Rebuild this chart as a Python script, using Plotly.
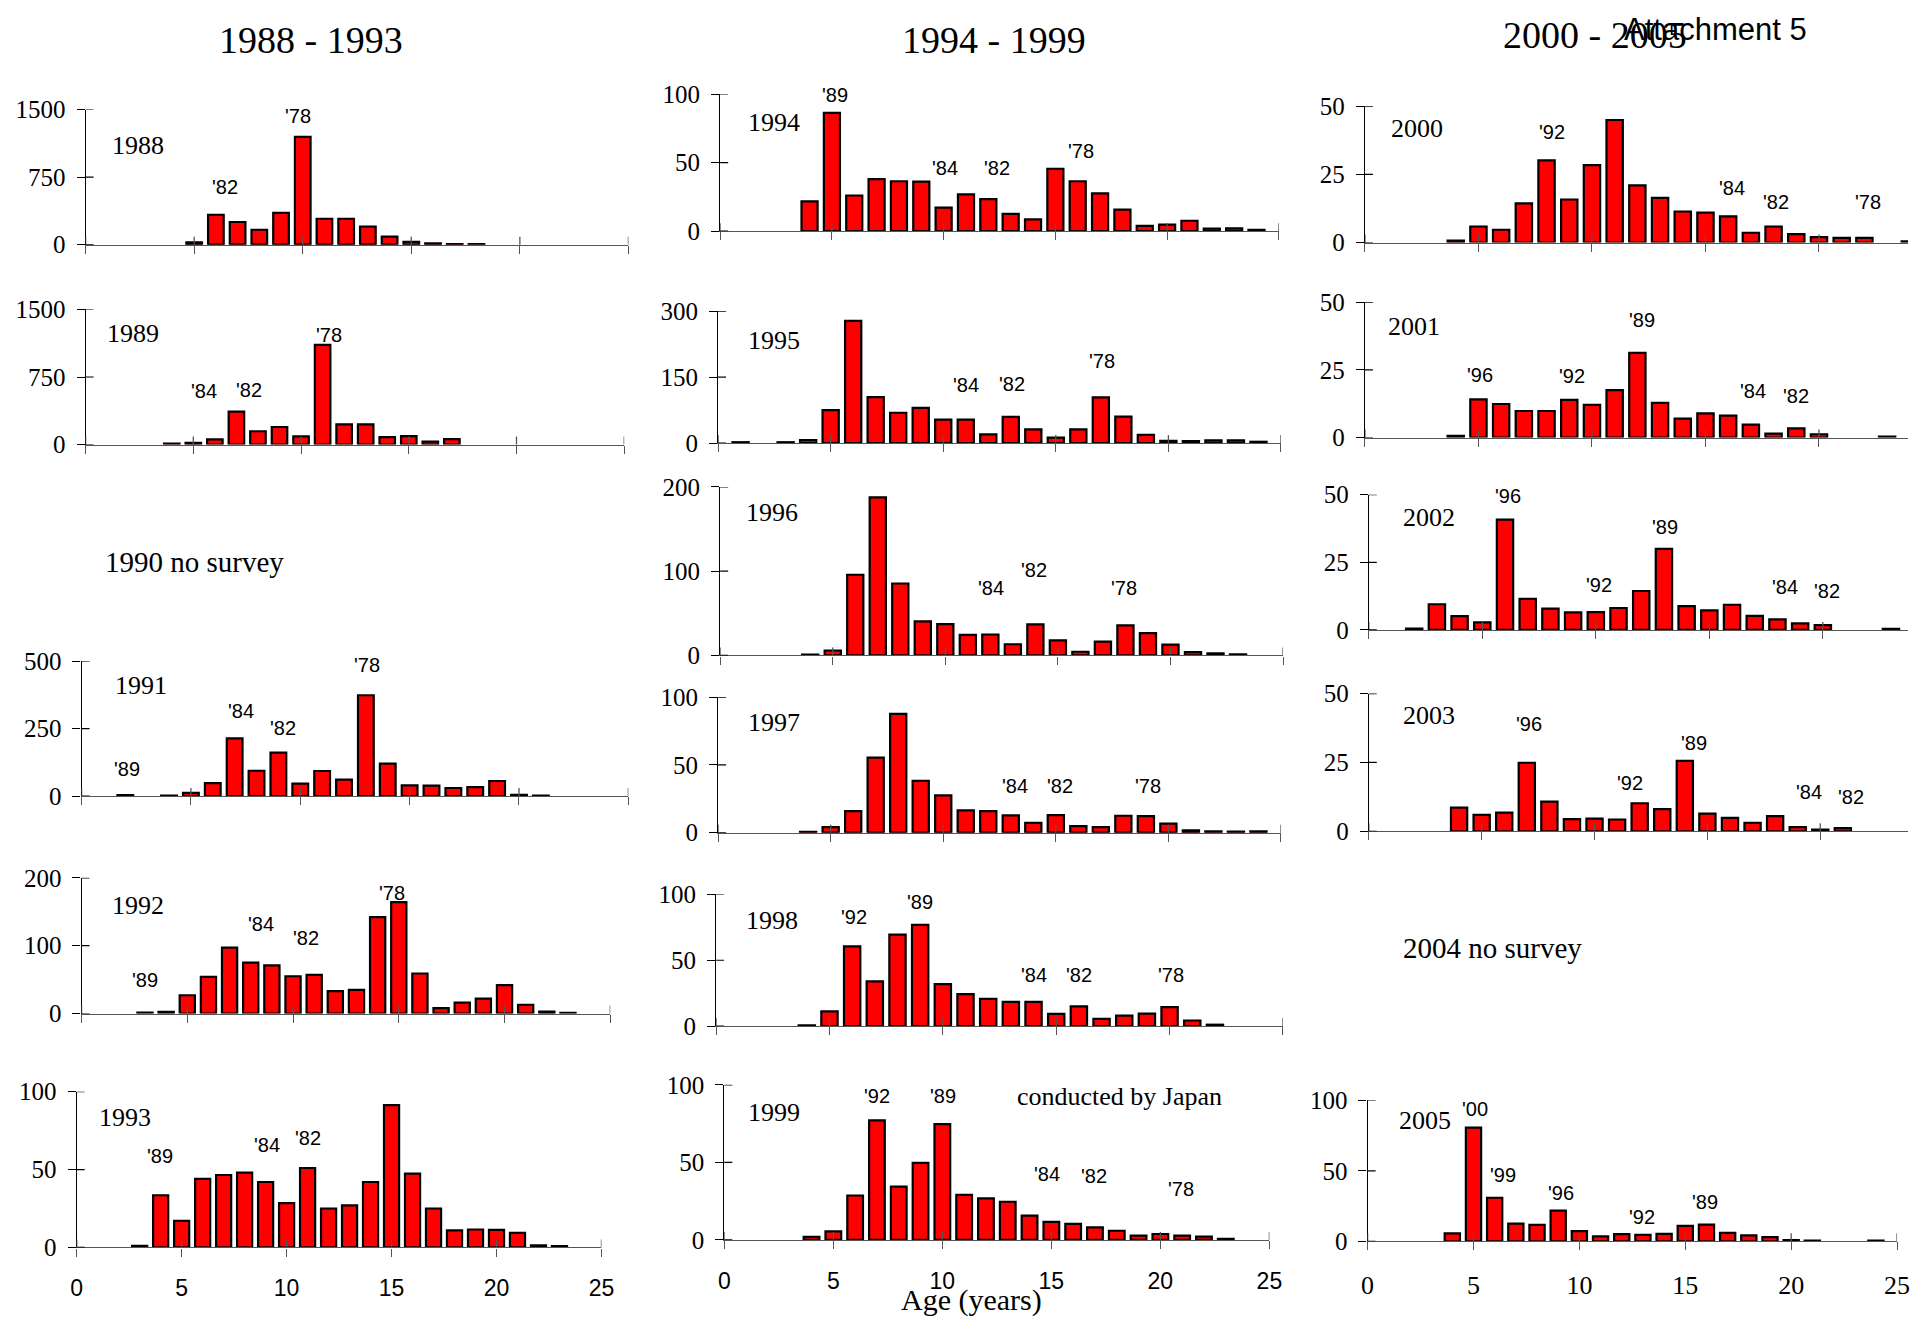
import plotly.graph_objects as go

W, H = 1921, 1330          # page / figure size in pixels
SERIF = "Liberation Serif"
SANS = "Liberation Sans"

# ---------------- age-frequency data (age in years, number of animals) ----------------
ages_1988 = [5, 6, 7, 8, 9, 10, 11, 12, 13, 14, 15, 16, 17, 18]
n_1988 = [25, 332, 252, 166, 353, 1197, 288, 288, 202, 90, 32, 15, 8, 6]

ages_1989 = [4, 5, 6, 7, 8, 9, 10, 11, 12, 13, 14, 15, 16, 17]
n_1989 = [10, 20, 58, 365, 148, 195, 90, 1106, 224, 224, 83, 94, 33, 61]

ages_1991 = [2, 4, 5, 6, 7, 8, 9, 10, 11, 12, 13, 14, 15, 16, 17, 18, 19, 20, 21]
n_1991 = [4, 2, 12, 48, 214, 94, 161, 46, 93, 61, 374, 120, 40, 39, 30, 33, 56, 5, 2]

ages_1992 = [3, 4, 5, 6, 7, 8, 9, 10, 11, 12, 13, 14, 15, 16, 17, 18, 19, 20, 21, 22, 23]
n_1992 = [1.5, 2.5, 27, 54, 97, 75, 71, 55, 57, 33, 35, 142, 164, 59, 8, 16, 22, 42, 13, 3, 1]

ages_1993 = [3, 4, 5, 6, 7, 8, 9, 10, 11, 12, 13, 14, 15, 16, 17, 18, 19, 20, 21, 22, 23]
n_1993 = [1, 33.5, 17, 44, 46.5, 48, 42, 28.5, 51, 25, 27, 42, 91.4, 47.4, 25, 11, 11.5, 11.3, 9.4, 1.3, 0.8]

ages_1994 = [4, 5, 6, 7, 8, 9, 10, 11, 12, 13, 14, 15, 16, 17, 18, 19, 20, 21, 22, 23, 24]
n_1994 = [21.7, 86.2, 26, 38, 36.4, 36.2, 17.1, 26.9, 23.3, 12.6, 8.6, 45.5, 36.4, 27.6, 15.7, 3.8, 4.8, 7.6, 1.9, 2.1, 1]

ages_1995 = [1, 3, 4, 5, 6, 7, 8, 9, 10, 11, 12, 13, 14, 15, 16, 17, 18, 19, 20, 21, 22, 23, 24]
n_1995 = [2, 2, 6.7, 75, 277.7, 104.7, 69, 80, 53.5, 53.5, 20, 59.4, 31.2, 12.6, 31.2, 104, 60, 18.6, 5.2, 4.5, 6, 6, 3]

ages_1996 = [4, 5, 6, 7, 8, 9, 10, 11, 12, 13, 14, 15, 16, 17, 18, 19, 20, 21, 22, 23]
n_1996 = [0.8, 5.8, 95.7, 187.6, 85.3, 40.3, 37.2, 24.4, 24.8, 13.2, 36.8, 17.8, 4.3, 16.3, 35.7, 26.4, 12.8, 3.9, 2.3, 1.2]

ages_1997 = [4, 5, 6, 7, 8, 9, 10, 11, 12, 13, 14, 15, 16, 17, 18, 19, 20, 21, 22, 23, 24]
n_1997 = [0.7, 4.1, 15.9, 55.4, 87.7, 38.3, 27.5, 16.4, 15.9, 12.8, 7.2, 13, 4.8, 4.1, 12.5, 12.3, 6.7, 1.7, 1, 0.9, 1]

ages_1998 = [4, 5, 6, 7, 8, 9, 10, 11, 12, 13, 14, 15, 16, 17, 18, 19, 20, 21, 22]
n_1998 = [0.5, 11.2, 60.5, 34, 69.5, 76.9, 31.8, 24.3, 20.6, 18.4, 18.4, 9.2, 14.9, 5.5, 7.9, 9.4, 14.4, 4.2, 1]

ages_1999 = [4, 5, 6, 7, 8, 9, 10, 11, 12, 13, 14, 15, 16, 17, 18, 19, 20, 21, 22, 23]
n_1999 = [1.9, 5.5, 28.6, 77, 34.3, 49.7, 74.7, 29, 26.7, 24.6, 15.6, 11.6, 10.3, 8, 5.9, 2.7, 3.8, 2.7, 2.1, 0.6]

ages_2000 = [4, 5, 6, 7, 8, 9, 10, 11, 12, 13, 14, 15, 16, 17, 18, 19, 20, 21, 22, 24]
n_2000 = [0.7, 5.9, 4.7, 14.4, 30.2, 15.8, 28.4, 45, 21, 16.4, 11.4, 11, 9.6, 3.6, 5.9, 3.1, 2, 1.7, 1.7, 0.4]

ages_2001 = [4, 5, 6, 7, 8, 9, 10, 11, 12, 13, 14, 15, 16, 17, 18, 19, 20, 23]
n_2001 = [0.6, 14.1, 12.4, 9.8, 9.8, 13.9, 12.1, 17.5, 31.3, 12.8, 7, 8.9, 8.1, 4.8, 1.4, 3.4, 1.2, 0.3]

ages_2002 = [2, 3, 4, 5, 6, 7, 8, 9, 10, 11, 12, 13, 14, 15, 16, 17, 18, 19, 20, 23]
n_2002 = [0.5, 9.5, 5.1, 2.8, 40.8, 11.5, 7.9, 6.5, 6.6, 8.1, 14.4, 30, 8.8, 7.2, 9.3, 5.2, 3.9, 2.4, 1.8, 0.4]

ages_2003 = [4, 5, 6, 7, 8, 9, 10, 11, 12, 13, 14, 15, 16, 17, 18, 19, 20, 21]
n_2003 = [8.6, 6, 6.8, 24.9, 10.8, 4.4, 4.6, 4.3, 10.2, 8.1, 25.6, 6.4, 4.9, 3.1, 5.5, 1.5, 0.6, 1.2]

ages_2005 = [4, 5, 6, 7, 8, 9, 10, 11, 12, 13, 14, 15, 16, 17, 18, 19, 20, 21, 24]
n_2005 = [5.6, 80.7, 30.9, 12.5, 11.6, 21.8, 7.2, 3.5, 5.1, 4.6, 5.3, 10.9, 11.8, 6, 4.2, 3, 0.9, 0.5, 0.5]

# y-axis tick values per survey
yticks_1988 = [0, 750, 1500]
yticks_1989 = [0, 750, 1500]
yticks_1991 = [0, 250, 500]
yticks_1992 = [0, 100, 200]
yticks_1993 = [0, 50, 100]
yticks_1994 = [0, 50, 100]
yticks_1995 = [0, 150, 300]
yticks_1996 = [0, 100, 200]
yticks_1997 = [0, 50, 100]
yticks_1998 = [0, 50, 100]
yticks_1999 = [0, 50, 100]
yticks_2000 = [0, 25, 50]
yticks_2001 = [0, 25, 50]
yticks_2002 = [0, 25, 50]
yticks_2003 = [0, 25, 50]
yticks_2005 = [0, 50, 100]

age_ticks = [0, 5, 10, 15, 20, 25]

# cohort (year-class) labels: text, age position, height in axis units
cohorts_1988 = [("'82", 6.4, 635), ("'78", 9.8, 1424)]
cohorts_1989 = [("'84", 5.5, 600), ("'82", 7.6, 607), ("'78", 11.3, 1211)]
cohorts_1991 = [("'89", 2.1, 100), ("'84", 7.3, 316), ("'82", 9.2, 252), ("'78", 13.05, 487)]
cohorts_1992 = [("'89", 3.0, 50), ("'84", 8.5, 132), ("'82", 10.6, 112), ("'78", 14.7, 177)]
cohorts_1993 = [("'89", 3.95, 59), ("'84", 9.05, 66), ("'82", 11.0, 70.4), ("'78", 15.0, 100.6)]
cohorts_1994 = [("'89", 5.15, 99), ("'84", 10.05, 46.4), ("'82", 12.4, 46.4), ("'78", 16.15, 58.3)]
cohorts_1995 = [("'89", 5.95, 307), ("'84", 11.0, 133), ("'82", 13.05, 135), ("'78", 17.05, 187)]
cohorts_1996 = [("'89", 7.3, 205), ("'84", 12.05, 79.5), ("'82", 13.95, 101.5), ("'78", 17.95, 79.5)]
cohorts_1997 = [("'89", 8.0, 104), ("'84", 13.2, 34.5), ("'82", 15.2, 34.5), ("'78", 19.1, 34.5)]
cohorts_1998 = [("'92", 6.1, 83), ("'89", 9.0, 94), ("'84", 14.0, 38.5), ("'82", 16.0, 38.5), ("'78", 20.05, 38.5)]
cohorts_1999 = [("'92", 7.0, 93), ("'89", 10.05, 93), ("'84", 14.8, 42.5), ("'82", 16.95, 41.5), ("'78", 20.95, 32.6)]
cohorts_2000 = [("'92", 8.25, 40.5), ("'89", 11.3, 51.9), ("'84", 16.15, 19.9), ("'82", 18.1, 15), ("'78", 22.15, 15)]
cohorts_2001 = [("'96", 5.05, 23), ("'92", 9.1, 22.7), ("'89", 12.2, 43.5), ("'84", 17.1, 17.3), ("'82", 19.0, 15.5)]
cohorts_2002 = [("'96", 6.15, 49.4), ("'92", 10.15, 16.5), ("'89", 13.05, 37.9), ("'84", 18.35, 15.9), ("'82", 20.2, 14.4)]
cohorts_2003 = [("'96", 7.1, 38.9), ("'92", 11.55, 17.7), ("'89", 14.4, 31.9), ("'84", 19.5, 14.3), ("'82", 21.35, 12.3)]
cohorts_2005 = [("'00", 5.05, 94.2), ("'99", 6.4, 47.1), ("'96", 9.15, 34.3), ("'92", 12.95, 17.2), ("'89", 15.95, 27.6)]

# ---------------- panel placement (pixels) ----------------
# x0: pixel of age 0, unit: pixels per year of age, y0: pixel of count 0,
# y1: pixel of the top tick; panels with open=True run on to the right edge
panels = [
    dict(year=1988, ages=ages_1988, n=n_1988, yt=yticks_1988, coh=cohorts_1988, x0=80.4, unit=21.93, y0=236.5, y1=98.5, lab=(133.5, 135), bottom=False, xfont=None),
    dict(year=1989, ages=ages_1989, n=n_1989, yt=yticks_1989, coh=cohorts_1989, x0=80.4, unit=21.76, y0=440.5, y1=302.6, lab=(128.6, 327), bottom=False, xfont=None),
    dict(year=1991, ages=ages_1991, n=n_1991, yt=yticks_1991, coh=cohorts_1991, x0=76.3, unit=22.09, y0=799.3, y1=661.7, lab=(136, 686), bottom=False, xfont=None),
    dict(year=1992, ages=ages_1992, n=n_1992, yt=yticks_1992, coh=cohorts_1992, x0=76.3, unit=21.36, y0=1021.3, y1=882.7, lab=(133.5, 911.5), bottom=False, xfont=None),
    dict(year=1993, ages=ages_1993, n=n_1993, yt=yticks_1993, coh=cohorts_1993, x0=71.4, unit=21.2, y0=1260, y1=1101, lab=(120, 1127), bottom=True, xfont=(SANS, 23)),
    dict(year=1994, ages=ages_1994, n=n_1994, yt=yticks_1994, coh=cohorts_1994, x0=721.3, unit=22.57, y0=222.7, y1=82.7, lab=(775.5, 111.5), bottom=False, xfont=None),
    dict(year=1995, ages=ages_1995, n=n_1995, yt=yticks_1995, coh=cohorts_1995, x0=719.2, unit=22.74, y0=439, y1=304.3, lab=(775.5, 334.5), bottom=False, xfont=None),
    dict(year=1996, ages=ages_1996, n=n_1996, yt=yticks_1996, coh=cohorts_1996, x0=721.3, unit=22.74, y0=655.7, y1=483.7, lab=(774, 509.6), bottom=False, xfont=None),
    dict(year=1997, ages=ages_1997, n=n_1997, yt=yticks_1997, coh=cohorts_1997, x0=719.2, unit=22.74, y0=836.7, y1=698.3, lab=(775.5, 724), bottom=False, xfont=None),
    dict(year=1998, ages=ages_1998, n=n_1998, yt=yticks_1998, coh=cohorts_1998, x0=717.2, unit=22.9, y0=1034, y1=899.7, lab=(774, 926), bottom=False, xfont=None),
    dict(year=1999, ages=ages_1999, n=n_1999, yt=yticks_1999, coh=cohorts_1999, x0=725.5, unit=22.02, y0=1252.3, y1=1094, lab=(775.5, 1122), bottom=True, xfont=(SANS, 23)),
    dict(year=2000, ages=ages_2000, n=n_2000, yt=yticks_2000, coh=cohorts_2000, x0=1372.5, unit=22.93, y0=234.3, y1=95.3, lab=(1424.8, 117.6), bottom=False, xfont=None, open=True),
    dict(year=2001, ages=ages_2001, n=n_2001, yt=yticks_2001, coh=cohorts_2001, x0=1372.5, unit=22.93, y0=433.3, y1=295.3, lab=(1422, 319.8), bottom=False, xfont=None, open=True),
    dict(year=2002, ages=ages_2002, n=n_2002, yt=yticks_2002, coh=cohorts_2002, x0=1376.4, unit=22.93, y0=629.7, y1=491.7, lab=(1437, 514.5), bottom=False, xfont=None, open=True),
    dict(year=2003, ages=ages_2003, n=n_2003, yt=yticks_2003, coh=cohorts_2003, x0=1376.4, unit=22.8, y0=835.3, y1=694.7, lab=(1437, 716.7), bottom=False, xfont=None, open=True),
    dict(year=2005, ages=ages_2005, n=n_2005, yt=yticks_2005, coh=cohorts_2005, x0=1375.2, unit=21.39, y0=1253.7, y1=1110, lab=(1433, 1130.8), bottom=True, xfont=(SERIF, 26)),
]


def fx(x):
    """Pixel -> paper fraction (x)."""
    return x / W


def fy(y):
    """Pixel -> paper fraction (y, measured from the bottom)."""
    return 1 - y / H


fig = go.Figure()
layout_axes = {}
shapes = []
annotations = []
TICK = 8

for i, p in enumerate(panels, start=1):
    sfx = "" if i == 1 else str(i)
    xref, yref = "x" + sfx, "y" + sfx
    ymax = p["yt"][-1]

    if p.get("open"):
        x_end = W
        xmax = (x_end - p["x0"]) / p["unit"]
    else:
        xmax = 25
        x_end = p["x0"] + 25 * p["unit"]

    fig.add_trace(go.Bar(
        x=p["ages"], y=p["n"], xaxis=xref, yaxis=yref, width=0.72,
        marker=dict(color="#ff0000", line=dict(color="#000000", width=2.2)),
        showlegend=False, hoverinfo="skip",
    ))

    xticks = [t for t in age_ticks if t <= xmax]
    xf = p["xfont"] or (SANS, 22)
    layout_axes["xaxis" + sfx] = dict(
        domain=[fx(p["x0"]), min(fx(x_end), 1.0)], range=[0, xmax],
        anchor=yref, showline=True, linecolor="#555555", linewidth=1.3,
        ticks="outside", ticklen=TICK, tickcolor="#555555", tickwidth=1.3,
        tickvals=xticks, ticktext=[str(t) for t in xticks],
        showticklabels=p["bottom"], tickfont=dict(family=xf[0], size=xf[1], color="#000000"),
        ticklabelstandoff=12, showgrid=False, zeroline=False, fixedrange=True,
    )
    layout_axes["yaxis" + sfx] = dict(
        domain=[fy(p["y0"]), fy(p["y1"])], range=[0, ymax],
        anchor=xref, showline=True, linecolor="#000000", linewidth=1.2,
        ticks="outside", ticklen=TICK, tickcolor="#000000", tickwidth=1.2,
        tickvals=p["yt"], ticktext=[str(v) for v in p["yt"]],
        tickfont=dict(family=SERIF, size=25, color="#000000"),
        ticklabelstandoff=6, showgrid=False, zeroline=False, fixedrange=True,
    )

    # inner halves of the crossing tick marks
    for t in xticks:
        shapes.append(dict(type="line", xref=xref, yref=yref, x0=t, x1=t,
                           ysizemode="pixel", yanchor=0, y0=-TICK, y1=TICK,
                           line=dict(color="#555555", width=1.3), layer="above"))
    for v in p["yt"]:
        shapes.append(dict(type="line", xref=xref, yref=yref, y0=v, y1=v,
                           xsizemode="pixel", xanchor=0, x0=-TICK, x1=TICK,
                           line=dict(color="#000000", width=1.2), layer="above"))

    # survey year label
    annotations.append(dict(text=str(p["year"]), x=fx(p["lab"][0]), y=fy(p["lab"][1]),
                            xref="paper", yref="paper",
                            xanchor="center", yanchor="middle", showarrow=False,
                            font=dict(family=SERIF, size=26, color="#000000")))
    # cohort labels
    for txt, cx, cy in p["coh"]:
        annotations.append(dict(text=txt, x=cx, y=cy, xref=xref, yref=yref,
                                xanchor="center", yanchor="middle", showarrow=False,
                                font=dict(family=SANS, size=20, color="#000000")))

# column headings and free text
texts = [
    ("1988 - 1993", 308, 28, SERIF, 38),
    ("1994 - 1999", 998, 28, SERIF, 38),
    ("2000 - 2005", 1605, 22, SERIF, 38),
    ("Attachment 5", 1727, 17, SANS, 31),
    ("1990 no survey", 190, 560, SERIF, 29),
    ("2004 no survey", 1501, 954, SERIF, 29),
    ("conducted by Japan", 1125, 1106, SERIF, 26),
    ("Age (years)", 975, 1314, SERIF, 30),
]
for txt, x, y, fam, size in texts:
    annotations.append(dict(text=txt, x=fx(x), y=fy(y), xref="paper", yref="paper",
                            xanchor="center", yanchor="middle", showarrow=False,
                            font=dict(family=fam, size=size, color="#000000")))

fig.update_layout(
    width=W, height=H, margin=dict(l=0, r=0, t=0, b=0),
    paper_bgcolor="white", plot_bgcolor="rgba(0,0,0,0)",
    bargap=0.28, shapes=shapes, annotations=annotations,
    **layout_axes,
)

fig.write_html("out.html", config={"displayModeBar": False})
